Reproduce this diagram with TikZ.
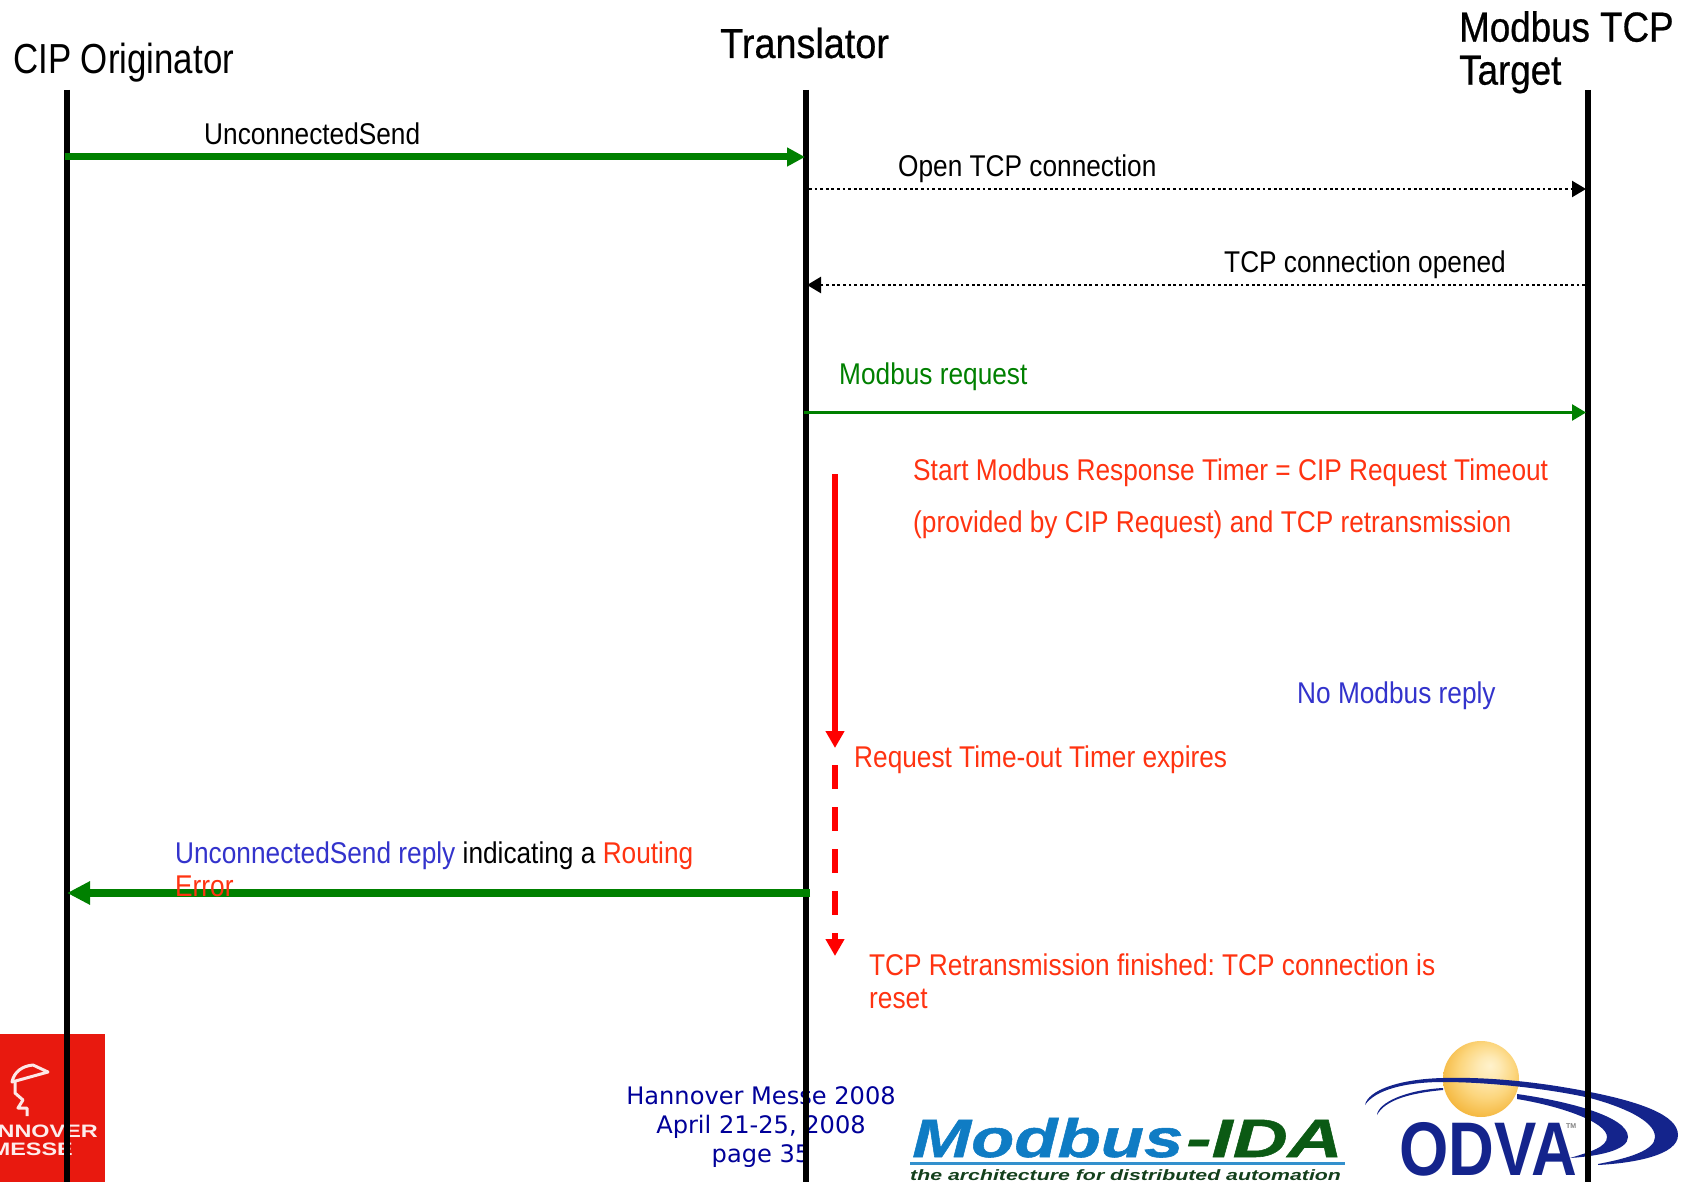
\documentclass[tikz,border=0pt]{standalone}
\usepackage{fontspec}
\usetikzlibrary{arrows.meta,shapes.geometric}
\setmainfont{Liberation Sans}
\frenchspacing
\newfontfamily\lblfont[FakeStretch=0.875]{Liberation Sans}
\newfontfamily\cipfont[FakeStretch=0.83]{Liberation Sans}
\newfontfamily\trfont[FakeStretch=0.9,FakeBold=0.5]{Liberation Sans}
\newfontfamily\tgfont[FakeStretch=0.875,FakeBold=0.6]{Liberation Sans}
\newfontfamily\odvafont[FakeStretch=0.834]{Liberation Sans Bold}
\newfontfamily\hmfont[FakeStretch=1.3]{Liberation Sans Bold}
\newfontfamily\mbAfont[FakeStretch=1.31,FakeBold=1]{Liberation Sans Bold Italic}
\newfontfamily\mbBfont[FakeStretch=1.41,FakeBold=1]{Liberation Sans Bold Italic}
\newfontfamily\tagfont[FakeStretch=1.42]{Liberation Sans Bold Italic}
\newfontfamily\footfont{DejaVu Sans}
\definecolor{txtred}{HTML}{FF3311}
\definecolor{txtblue}{HTML}{3333CC}
\definecolor{arrgreen}{HTML}{008000}
\definecolor{navy}{HTML}{000099}
\definecolor{hmred}{HTML}{E8190F}
\definecolor{mbblue}{HTML}{0F7CC4}
\definecolor{mbgreen}{HTML}{0B5A14}
\definecolor{tagcol}{HTML}{14401C}
\definecolor{odblue}{HTML}{14248C}
\definecolor{sunA}{HTML}{FFF2CC}
\definecolor{sunB}{HTML}{FCD67E}
\definecolor{sunC}{HTML}{F4B63C}
\pgfdeclareradialshading{sunshade}{\pgfpoint{6bp}{9bp}}{
  color(0bp)=(sunA); color(7bp)=(sunA!70!sunB);
  color(18bp)=(sunB); color(30bp)=(sunC); color(50bp)=(sunC)}
\tikzset{
  x=1pt,y=-1pt,
  lifeline/.style={line width=6pt,black},
  lbl/.style={inner sep=0pt,anchor=base west,font=\lblfont\fontsize{30}{33}\selectfont},
  foot/.style={inner sep=0pt,anchor=base,text=navy,font=\footfont\fontsize{24.1}{26}\selectfont},
  logotext/.style={inner sep=0pt,anchor=base west},
  msgbig/.style={arrgreen},
  dotmsg/.style={line width=2.4pt,black,dash pattern=on 2.8pt off 2.8pt},
  redarrow/.style={line width=6pt,red},
}
\begin{document}
\begin{tikzpicture}
\useasboundingbox (0,0) rectangle (1695,1182);
\fill[white] (0,0) rectangle (1695,1182);

% Hannover Messe logo
\begin{scope}
\clip (0,1034) rectangle (105,1182);
\fill[hmred] (0,1034) rectangle (105,1182);
\draw[white!90!hmred,line width=3pt,line join=round] (27,1116) -- (27,1108) -- (18,1108) -- (23,1100) -- (15,1093) -- (15,1082);
\draw[white!90!hmred,line width=3pt,line join=round] (12,1082) .. controls (14,1072) and (22,1066) .. (33,1065) -- (48,1072) -- (30,1077) -- cycle;
\node[inner sep=0pt,anchor=base east,text=white!92!hmred] (hmtop) at (98,1137) {\hmfont\fontsize{18}{20}\selectfont HANNOVER};
\node[inner sep=0pt,anchor=base east,text=white!92!hmred] (hmbot) at (73,1155) {\hmfont\fontsize{18}{20}\selectfont MESSE};
\end{scope}

% Footer text
\node[foot] (ft1) at (761,1104) {Hannover Messe 2008};
\node[foot] (ft2) at (761,1133) {April 21-25, 2008};
\node[foot] (ft3) at (761,1162) {page 35};

% Modbus-IDA logo
\node[logotext,text=mbblue] (mbA) at (912,1157) {\mbAfont\fontsize{54}{56}\selectfont Modbus};
\node[logotext,text=mbgreen] (mbB) at (1186,1157) {\mbBfont\fontsize{54}{56}\selectfont -IDA};
\fill[mbblue!85!white] (910,1162) rectangle (1345,1164.5);
\node[logotext,text=tagcol] (mbC) at (910,1180) {\tagfont\fontsize{15}{16}\selectfont the architecture for distributed automation};

% ODVA logo
\fill[odblue] (1377,1115) .. controls (1378,1103) and (1405,1090) .. (1443,1088)
  -- (1443,1090) .. controls (1410,1093) and (1385,1100) .. (1377,1115) -- cycle;
\fill[odblue] (1517,1094) .. controls (1560,1100) and (1628,1115) .. (1628,1137)
  .. controls (1628,1150) and (1600,1156) .. (1570,1158)
  .. controls (1590,1152) and (1607,1147) .. (1607,1137)
  .. controls (1607,1122) and (1560,1106) .. (1517,1099) -- cycle;
\shade[shading=sunshade] (1481,1079) circle (38);
\fill[odblue] (1365,1105) .. controls (1368,1090) and (1400,1079) .. (1443,1078)
  .. controls (1480,1077) and (1530,1080) .. (1590,1092)
  .. controls (1640,1102) and (1678,1115) .. (1678,1135)
  .. controls (1678,1155) and (1635,1163) .. (1598,1165)
  -- (1598,1164)
  .. controls (1630,1158) and (1655,1150) .. (1655,1137)
  .. controls (1655,1120) and (1620,1106) .. (1590,1098)
  .. controls (1550,1089) and (1490,1082) .. (1443,1082)
  .. controls (1405,1082) and (1375,1090) .. (1365,1105) -- cycle;
\node[logotext,text=odblue] (odva) at (1399,1175) {\odvafont\fontsize{76}{78}\selectfont ODVA};
\node[logotext,text=gray] (odtm) at (1566,1128) {\fontsize{7}{8}\selectfont\bfseries TM};

% Lifelines
\coordinate (cipT) at (67,90);   \coordinate (cipB) at (67,1182);
\coordinate (trT) at (805.5,90); \coordinate (trB) at (805.5,1182);
\coordinate (tgT) at (1588,90);  \coordinate (tgB) at (1588,1182);
\draw[lifeline] (cipT) -- (cipB);
\draw[lifeline] (trT) -- (trB);
\draw[lifeline] (tgT) -- (tgB);

% Headers
\node[inner sep=0pt,anchor=base west,font=\cipfont\fontsize{42}{44}\selectfont] (hcip) at (13,74) {CIP Originator};
\node[inner sep=0pt,anchor=base west,font=\trfont\fontsize{42}{44}\selectfont] (htr) at (720,58) {Translator};
\node[inner sep=0pt,anchor=north west,align=left,font=\tgfont\fontsize{42}{43}\selectfont] (htg) at (1459,11) {Modbus TCP\\Target};

% Messages
\coordinate (m1a) at (65,157);    \coordinate (m1b) at (805,157);
\draw[msgbig,line width=7pt,-{Triangle[length=18pt,width=18pt]}] (m1a) -- (m1b);
\node[lbl] (l1) at (204,145) {UnconnectedSend};

\coordinate (m2a) at (809,189);   \coordinate (m2b) at (1586,189);
\draw[dotmsg,-{Triangle[length=14pt,width=16pt]}] (m2a) -- (m2b);
\node[lbl] (l2) at (898,177) {Open TCP connection};

\coordinate (m3a) at (1585,285);  \coordinate (m3b) at (807,285);
\draw[dotmsg,-{Triangle[length=14pt,width=16pt]}] (m3a) -- (m3b);
\node[lbl] (l3) at (1224,273) {TCP connection opened};

\coordinate (m4a) at (804,412.5);   \coordinate (m4b) at (1586,412.5);
\draw[line width=2.6pt,arrgreen,-{Triangle[length=14pt,width=16pt]}] (m4a) -- (m4b);
\node[lbl,text=arrgreen] (l4) at (839,384) {Modbus request};

\node[lbl,text=txtred] (l5) at (913,480) {Start Modbus Response Timer = CIP Request Timeout};
\node[lbl,text=txtred] (l6) at (913,532) {(provided by CIP Request) and TCP retransmission};

\coordinate (r1a) at (835,474);   \coordinate (r1b) at (835,748);
\draw[redarrow,-{Triangle[length=17pt,width=18pt]}] (r1a) -- (r1b);
\coordinate (r2a) at (835,765);   \coordinate (r2b) at (835,956);
\draw[redarrow,dash pattern=on 24pt off 18pt,-{Triangle[length=17pt,width=18pt]}] (r2a) -- (r2b);

\node[lbl,text=txtblue] (l7) at (1297,703.5) {No Modbus reply};
\node[lbl,text=txtred] (l8) at (854,767.5) {Request Time-out Timer expires};

\coordinate (m5a) at (810,893);   \coordinate (m5b) at (67,893);
\draw[msgbig,line width=7.5pt,-{Triangle[length=23pt,width=22pt]}] (m5a) -- (m5b);

\node[lbl,anchor=north west,align=left] (l9) at (175,842) {\textcolor{txtblue}{UnconnectedSend reply} indicating a \textcolor{txtred}{Routing}\\\textcolor{txtred}{Error}};

\node[lbl,text=txtred,anchor=north west,align=left] (l10) at (869,954) {TCP Retransmission finished: TCP connection is\\reset};
\end{tikzpicture}
\end{document}
